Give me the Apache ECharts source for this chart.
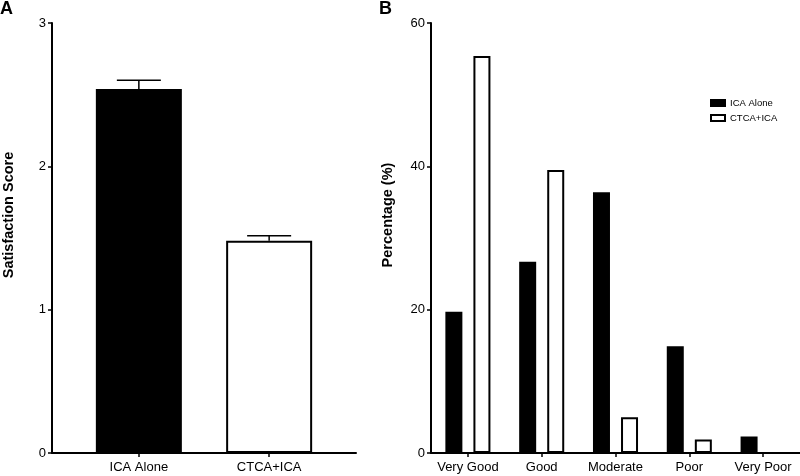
<!DOCTYPE html>
<html>
<head>
<meta charset="utf-8">
<script src="https://cdn.jsdelivr.net/npm/echarts@6/dist/echarts.min.js"></script>
<style>html,body{margin:0;padding:0;background:#fff}#c{width:800px;height:476px}</style>
</head>
<body>
<div id="c"></div>
<script>
// Panel A data
const catA = ['ICA Alone', 'CTCA+ICA'];
const scoreA = [2.54, 1.48];
const errA = [0.06, 0.035];
// Panel B data
const catB = ['Very Good', 'Good', 'Moderate', 'Poor', 'Very Poor'];
const icaAlone = [19.7, 26.7, 36.4, 14.9, 2.3];
const ctcaIca = [55.4, 39.5, 5.0, 1.9, 0];

const FONT = 'Liberation Sans, Arial, sans-serif';
const chart = echarts.init(document.getElementById('c'), null, {renderer: 'canvas'});

const barDataA = scoreA.map((v, i) => ({
  value: [i, v],
  itemStyle: {color: i === 0 ? '#000' : '#fff', borderColor: '#000', borderWidth: 2}
}));
const errDataA = scoreA.map((v, i) => [i, v, v + errA[i]]);

const axisLineStyle = {show: true, onZero: false, lineStyle: {color: '#000', width: 2}};
const tickStyle = {show: true, inside: false, length: 4, lineStyle: {color: '#000', width: 1.5}};
const labelStyle = {color: '#000', fontSize: 13, fontFamily: FONT};
const nameStyle = {fontSize: 14.5, fontWeight: 'bold', color: '#000', fontFamily: FONT, padding: [0, 0, 0, 46]};

const option = {
  animation: false,
  backgroundColor: '#fff',
  title: [
    {text: 'A', left: 0, top: 0, padding: 0, textStyle: {fontSize: 18, fontWeight: 'bold', color: '#000', fontFamily: FONT}},
    {text: 'B', left: 379, top: 0, padding: 0, textStyle: {fontSize: 18, fontWeight: 'bold', color: '#000', fontFamily: FONT}}
  ],
  legend: {
    data: ['ICA Alone', 'CTCA+ICA'],
    orient: 'vertical',
    left: 710,
    top: 98,
    padding: 0,
    itemWidth: 14,
    itemHeight: 6,
    itemGap: 5,
    icon: 'rect',
    textStyle: {fontSize: 9.5, color: '#000', fontFamily: FONT}
  },
  grid: [
    {left: 49, right: 444, top: 23, bottom: 23},
    {left: 431, right: -5, top: 23, bottom: 23}
  ],
  xAxis: [
    {
      type: 'value', gridIndex: 0, min: -2 / 3, max: 5 / 3,
      axisLine: axisLineStyle,
      axisTick: Object.assign({}, tickStyle, {customValues: [0, 1]}),
      axisLabel: Object.assign({}, labelStyle, {customValues: [0, 1], margin: 8, formatter: v => catA[Math.round(v)]}),
      splitLine: {show: false}
    },
    {
      type: 'category', gridIndex: 1, data: catB,
      axisLine: axisLineStyle,
      axisTick: Object.assign({}, tickStyle, {alignWithLabel: true}),
      axisLabel: Object.assign({}, labelStyle, {margin: 8, interval: 0}),
      splitLine: {show: false}
    }
  ],
  yAxis: [
    {
      type: 'value', gridIndex: 0, min: 0, max: 3, interval: 1,
      name: 'Satisfaction Score', nameLocation: 'middle', nameGap: 36, nameRotate: 90,
      nameTextStyle: nameStyle,
      axisLine: axisLineStyle, axisTick: tickStyle,
      axisLabel: Object.assign({}, labelStyle, {margin: 6}),
      splitLine: {show: false}
    },
    {
      type: 'value', gridIndex: 1, min: 0, max: 60, interval: 20,
      name: 'Percentage (%)', nameLocation: 'middle', nameGap: 36, nameRotate: 90,
      nameTextStyle: nameStyle,
      axisLine: axisLineStyle, axisTick: tickStyle,
      axisLabel: Object.assign({}, labelStyle, {margin: 6}),
      splitLine: {show: false}
    }
  ],
  series: [
    {
      type: 'bar', xAxisIndex: 0, yAxisIndex: 0, barWidth: 86,
      data: barDataA, silent: true
    },
    {
      type: 'custom', xAxisIndex: 0, yAxisIndex: 0, z: 5, silent: true,
      data: errDataA,
      encode: {x: 0, y: [1, 2]},
      renderItem: function (params, api) {
        const x = api.value(0);
        const base = api.coord([x, api.value(1)]);
        const top = api.coord([x, api.value(2)]);
        const half = 22;
        const st = {stroke: '#000', lineWidth: 1.5};
        return {
          type: 'group',
          children: [
            {type: 'line', shape: {x1: base[0], y1: base[1], x2: top[0], y2: top[1]}, style: st},
            {type: 'line', shape: {x1: top[0] - half, y1: top[1], x2: top[0] + half, y2: top[1]}, style: st}
          ]
        };
      }
    },
    {
      name: 'ICA Alone', type: 'bar', xAxisIndex: 1, yAxisIndex: 1,
      barWidth: 17, barGap: '65%', data: icaAlone, silent: true,
      itemStyle: {color: '#000', borderColor: '#000', borderWidth: 2}
    },
    {
      name: 'CTCA+ICA', type: 'bar', xAxisIndex: 1, yAxisIndex: 1,
      barWidth: 17, barGap: '65%', data: ctcaIca, silent: true,
      itemStyle: {color: '#fff', borderColor: '#000', borderWidth: 2}
    }
  ]
};
chart.setOption(option);
</script>
</body>
</html>
